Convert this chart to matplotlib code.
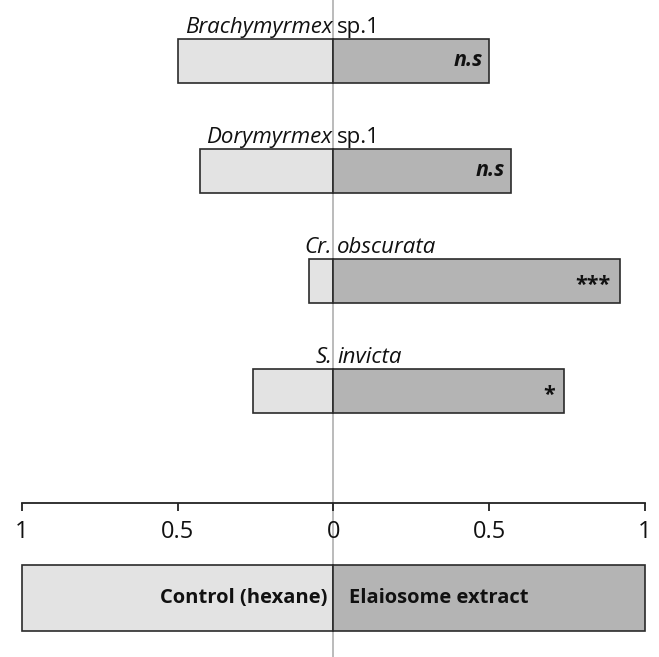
import matplotlib.pyplot as plt

# data
genus = ['Brachymyrmex', 'Dorymyrmex', 'Cr.', 'S.']
rest = ['sp.1', 'sp.1', 'obscurata', 'invicta']
genus_italic = [True, True, True, True]
rest_italic = [False, False, True, True]
control = [0.50, 0.43, 0.08, 0.26]
extract = [0.50, 0.57, 0.92, 0.74]
signif = ['n.s', 'n.s', '***', '*']
tick_vals = [-1, -0.5, 0, 0.5, 1]
tick_labels = ['1', '0.5', '0', '0.5', '1']

plt.rcParams['font.family'] = ['Open Sans', 'DejaVu Sans']

W, H = 659, 657
fig = plt.figure(figsize=(W / 100, H / 100), dpi=100)

# pixel mapping: x=-1 at 22px, x=1 at 645px
x0, x1 = 22, 645
per_px = 2 / (x1 - x0)
xmin = -1 - x0 * per_px
xmax = 1 + (W - x1) * per_px

ax = fig.add_axes([0, 0, 1, 1])
ax.set_xlim(xmin, xmax)
# bar centres at 61 + 110*i px
y_top = -61 / 110
y_bot = (H - 61) / 110
ax.set_ylim(y_bot, y_top)
ax.axis('off')

light = '#e3e3e3'
dark = '#b4b4b4'
edge = '#2b2b2b'

ax.axvline(0, color='#b5b5b5', lw=1.3, zorder=0)

pos = list(range(len(genus)))
ax.barh(pos, [-c for c in control], height=0.4, color=light, edgecolor=edge, lw=1.2, zorder=2)
ax.barh(pos, extract, height=0.4, color=dark, edgecolor=edge, lw=1.2, zorder=2)

fs = 16
for i in pos:
    ax.text(-0.004, i - 0.21, genus[i], ha='right', va='bottom', fontsize=fs,
            style='italic' if genus_italic[i] else 'normal', color='#111111')
    ax.text(0.012, i - 0.21, rest[i], ha='left', va='bottom', fontsize=fs,
            style='italic' if rest_italic[i] else 'normal', color='#111111')
    if signif[i] == 'n.s':
        ax.text(extract[i] - 0.02, i, signif[i], ha='right', va='center',
                fontsize=15.5, fontweight='bold', style='italic', color='#111111')
    else:
        ax.text(extract[i] - 0.03, i + 0.04, signif[i], ha='right', va='center',
                fontsize=15.5, fontweight='bold', color='#111111')

# legend bar
leg_y = (598 - 61) / 110
ax.barh([leg_y], [-1], height=0.6, color=light, edgecolor=edge, lw=1.2, zorder=2)
ax.barh([leg_y], [1], height=0.6, color=dark, edgecolor=edge, lw=1.2, zorder=2)
ax.text(-0.02, leg_y, 'Control (hexane)', ha='right', va='center', fontsize=14.5,
        fontweight='bold', color='#111111')
ax.text(0.05, leg_y, 'Elaiosome extract', ha='left', va='center', fontsize=14.5,
        fontweight='bold', color='#111111')

# scale axis
axis_px = 503
sax = fig.add_axes([x0 / W, 1 - axis_px / H, (x1 - x0) / W, 0.001])
sax.set_xlim(-1, 1)
sax.patch.set_alpha(0)
for s in ['top', 'left', 'right']:
    sax.spines[s].set_visible(False)
sax.spines['bottom'].set_linewidth(1.3)
sax.spines['bottom'].set_color('#222222')
sax.set_yticks([])
sax.set_xticks(tick_vals)
sax.set_xticklabels(tick_labels, fontsize=17, color='#111111')
sax.tick_params(axis='x', direction='out', length=6, width=1.3, color='#222222', pad=6)

fig.savefig('out.png', dpi=100)
